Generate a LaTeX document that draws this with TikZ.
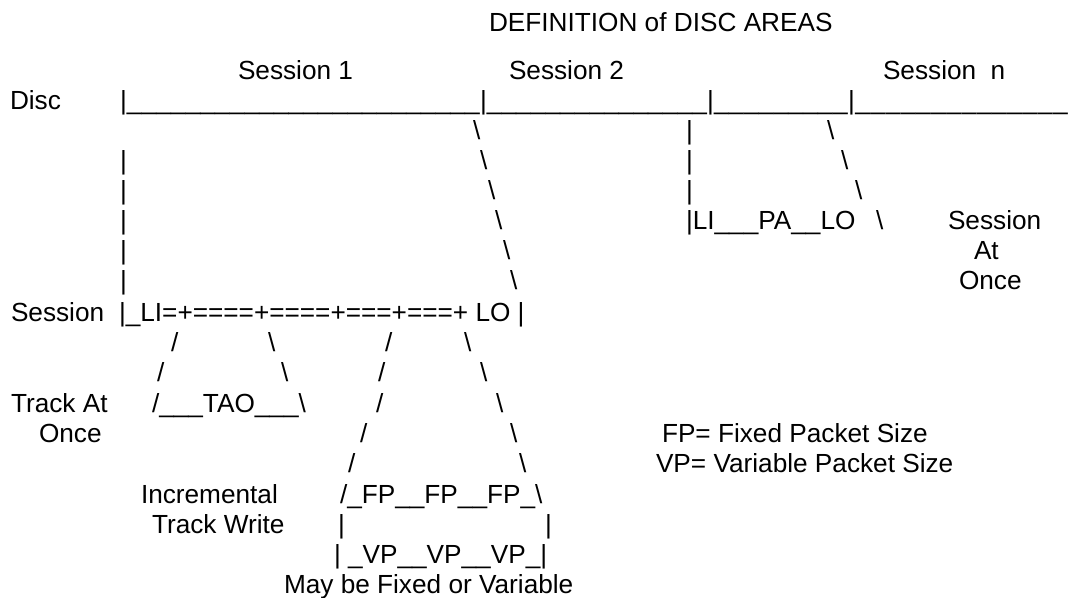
\documentclass[tikz,border=0pt]{standalone}
\usepackage{fontspec}
\setmainfont{Liberation Sans}
\newcommand\ufill[1]{\hbox to #1bp{\xleaders\hbox{\_}\hfill}}
\newcommand\bs{\textbackslash}
\newcommand\br{\textbar}
\begin{document}
\begin{tikzpicture}[x=1bp,y=-1bp,
  t/.style={anchor=base west,inner sep=0pt,outer sep=0pt,font=\fontsize{26.2bp}{30bp}\selectfont}]
\useasboundingbox (0,0) rectangle (1069,598);
% title
\node[t] (title) at (489,32) {DEFINITION of DISC AREAS};
% row 0
\node[t] (s1) at (238,80) {Session 1};
\node[t] (s2) at (509,80) {Session 2};
\node[t] (sn) at (883,80) {Session~~n};
% row 1 : disc
\node[t] (disc) at (10,110) {Disc};
\node[t] (dp1) at (120,110) {\br};
\node[t] (du1) at (126.8,110) {\ufill{353.2}};
\node[t] (dp2) at (480,110) {\br};
\node[t] (du2) at (486.8,110) {\ufill{220.2}};
\node[t] (dp3) at (707,110) {\br};
\node[t] (du3) at (713.8,110) {\ufill{134.2}};
\node[t] (dp4) at (848,110) {\br};
\node[t] (du4) at (854.8,110) {\ufill{213.5}};
% row 2
\node[t] (r2b) at (473,140) {\bs};
\node[t] (r2p) at (686,140) {\br};
\node[t] (r2c) at (827,140) {\bs};
% row 3
\node[t] (r3a) at (120,170) {\br};
\node[t] (r3b) at (480,170) {\bs};
\node[t] (r3p) at (686,170) {\br};
\node[t] (r3c) at (841,170) {\bs};
% row 4
\node[t] (r4a) at (120,200) {\br};
\node[t] (r4b) at (488,200) {\bs};
\node[t] (r4p) at (686,200) {\br};
\node[t] (r4c) at (855,200) {\bs};
% row 5
\node[t] (r5a) at (120,230) {\br};
\node[t] (r5b) at (495,230) {\bs};
\node[t] (sao) at (686,230) {\br LI\_\_\_PA\_\_LO};
\node[t] (r5c) at (876,230) {\bs};
\node[t] (sao1) at (948,230) {Session};
% row 6
\node[t] (r6a) at (120,260) {\br};
\node[t] (r6b) at (503,260) {\bs};
\node[t] (sao2) at (974,260) {At};
% row 7
\node[t] (r7a) at (120,290) {\br};
\node[t] (r7b) at (510,290) {\bs};
\node[t] (sao3) at (959,290) {Once};
% row 8 : session
\node[t] (sess) at (11,321) {Session};
\node[t] (sline) at (119,321) {\br\_LI=+====+====+===+===+~LO~\br};
% row 9
\node[t] (r9a) at (171,351) {/};
\node[t] (r9b) at (268,351) {\bs};
\node[t] (r9c) at (385,351) {/};
\node[t] (r9d) at (464,351) {\bs};
% row 10
\node[t] (r10a) at (157,381) {/};
\node[t] (r10b) at (281,381) {\bs};
\node[t] (r10c) at (378,381) {/};
\node[t] (r10d) at (480,381) {\bs};
% row 11
\node[t] (tao1) at (11,412) {Track At};
\node[t] (tao) at (152,412) {/\_\_\_TAO\_\_\_\bs};
\node[t] (r11c) at (376,412) {/};
\node[t] (r11d) at (496,412) {\bs};
% row 12
\node[t] (tao2) at (39,442) {Once};
\node[t] (r12c) at (360,442) {/};
\node[t] (r12d) at (510,442) {\bs};
\node[t] (fp) at (662,442) {FP= Fixed Packet Size};
% row 13
\node[t] (r13c) at (348,472) {/};
\node[t] (r13d) at (519,472) {\bs};
\node[t] (vp) at (656,472) {VP= Variable Packet Size};
% row 14
\node[t] (itw1) at (141,503) {Incremental};
\node[t] (fpl) at (340,503) {/\_FP\_\_FP\_\_FP\_\bs};
% row 15
\node[t] (itw2) at (152,533) {Track Write};
\node[t] (r15a) at (338,533) {\br};
\node[t] (r15b) at (545,533) {\br};
% row 16
\node[t] (vpl) at (334,563) {\br~\_VP\_\_VP\_\_VP\_\br};
% row 17
\node[t] (may) at (284,593) {May be Fixed or Variable};
\end{tikzpicture}
\end{document}
